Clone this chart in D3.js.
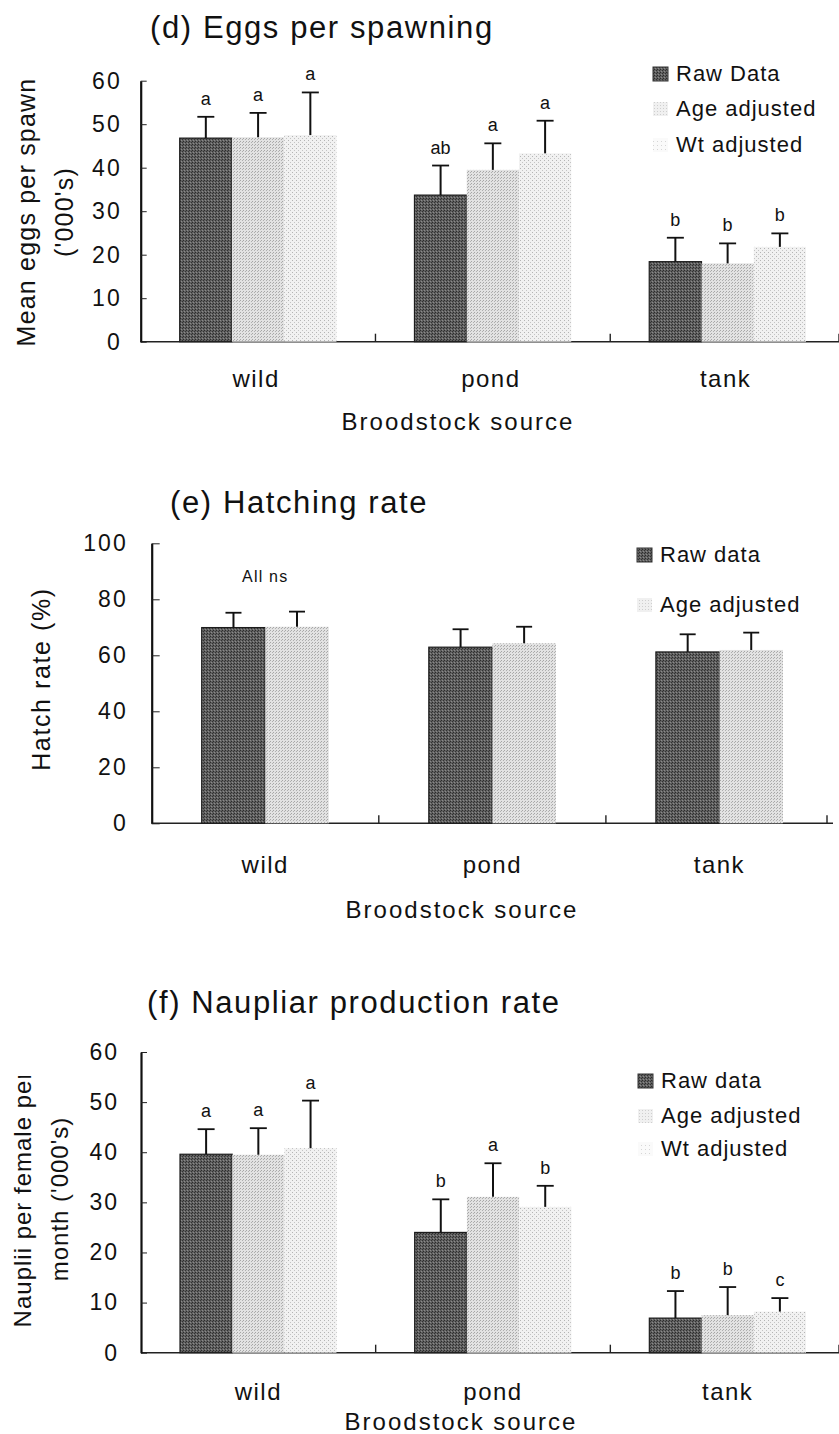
<!DOCTYPE html>
<html>
<head>
<meta charset="utf-8">
<title>Broodstock source</title>
<script src="https://cdn.jsdelivr.net/npm/d3@7"></script>
<style>
  body { margin: 0; background: #fff; }
  svg { display: block; font-family: "Liberation Sans", Arial, sans-serif; }
</style>
</head>
<body>
<svg id="chart" width="839" height="1434"></svg>
<script>
// categories + series names
const sources = ['wild', 'pond', 'tank']
const seriesKeys = ['raw', 'age', 'wt']

// (d) eggs per spawning ('000s)
const eggsRaw = [46.8, 33.7, 18.4]
const eggsRawSE = [4.9, 6.8, 5.5]
const eggsAge = [47.0, 39.5, 18.0]
const eggsAgeSE = [5.6, 6.1, 4.6]
const eggsWt = [47.5, 43.3, 21.8]
const eggsWtSE = [9.8, 7.5, 3.1]
const eggsRawSig = ['a', 'ab', 'b']
const eggsAgeSig = ['a', 'a', 'b']
const eggsWtSig = ['a', 'a', 'b']
const eggsTicks = [0, 10, 20, 30, 40, 50, 60]
const eggsLegend = ['Raw Data', 'Age adjusted', 'Wt adjusted']

// (e) hatching rate (%)
const hatchRaw = [69.9, 62.9, 61.2]
const hatchRawSE = [5.3, 6.4, 6.3]
const hatchAge = [70.2, 64.3, 61.9]
const hatchAgeSE = [5.4, 5.9, 6.2]
const hatchTicks = [0, 20, 40, 60, 80, 100]
const hatchLegend = ['Raw data', 'Age adjusted']

// (f) naupliar production rate ('000s per female per month)
const naupRaw = [39.6, 24.0, 6.9]
const naupRawSE = [5.0, 6.6, 5.4]
const naupAge = [39.5, 31.1, 7.5]
const naupAgeSE = [5.3, 6.7, 5.6]
const naupWt = [40.8, 29.1, 8.2]
const naupWtSE = [9.5, 4.2, 2.7]
const naupRawSig = ['a', 'b', 'b']
const naupAgeSig = ['a', 'a', 'b']
const naupWtSig = ['a', 'b', 'c']
const naupTicks = [0, 10, 20, 30, 40, 50, 60]
const naupLegend = ['Raw data', 'Age adjusted', 'Wt adjusted']

const svg = d3.select('#chart')
const defs = svg.append('defs')

// stipple fills, like the scanned print
function stipple(id, size, base, dots) {
	const p = defs.append('pattern').attr('id', id)
		.attr('width', size).attr('height', size)
		.attr('patternUnits', 'userSpaceOnUse')
	p.append('rect').attr('width', size).attr('height', size).attr('fill', base)
	dots.forEach(function(d) {
		p.append('rect').attr('x', d[0]).attr('y', d[1]).attr('width', 1).attr('height', 1).attr('fill', d[2])
	})
}
stipple('fill-raw', 3, '#606060', [[0, 0, '#2c2c2c'], [2, 1, '#333'], [1, 2, '#8a8a8a']])
stipple('fill-age', 3, '#e2e2e2', [[0, 0, '#a6a6a6'], [2, 1, '#b0b0b0']])
stipple('fill-wt', 4, '#f1f1f1', [[0, 0, '#b4b4b4'], [2, 2, '#c4c4c4']])
stipple('fill-age-key', 3, '#f0f0f0', [[0, 0, '#cfcfcf']])
stipple('fill-wt-key', 4, '#fafafa', [[1, 1, '#d6d6d6']])

const fills = { raw: 'url(#fill-raw)', age: 'url(#fill-age)', wt: 'url(#fill-wt)' }
const keyFills = { raw: 'url(#fill-raw)', age: 'url(#fill-age-key)', wt: 'url(#fill-wt-key)' }

// clip for the cut-off first line of the (f) y label
defs.append('clipPath').attr('id', 'clip-f').append('rect')
	.attr('x', 0).attr('y', 1076).attr('width', 120).attr('height', 300)

function drawPanel(o) {
	const g = svg.append('g')

	const y = d3.scaleLinear().domain([0, o.yMax]).range([o.y0, o.yTop])
	const x = d3.scaleBand().domain(sources).range([o.x0, o.x1]).padding(0)
	const keys = o.series.map(function(s) { return s.key })
	const xs = d3.scaleBand().domain(keys)
		.range([o.groupPad, x.bandwidth() - o.groupPad]).padding(0)

	// x axis line + boundary ticks
	g.append('line')
		.attr('x1', o.x0).attr('x2', o.x1)
		.attr('y1', y(0)).attr('y2', y(0))
		.attr('stroke', '#222').attr('stroke-width', 1.4)
	const bounds = sources.slice(1).map(function(c) { return x(c) }).concat([o.x1 - 6])
	g.selectAll('.xtick').data(bounds).enter().append('line')
		.attr('x1', function(d) { return d }).attr('x2', function(d) { return d })
		.attr('y1', y(0)).attr('y2', y(0) - 8)
		.attr('stroke', '#222').attr('stroke-width', 1.4)

	// bars
	o.series.forEach(function(s) {
		const sg = g.append('g')
		const rows = sources.map(function(c, i) {
			return { cat: c, v: s.values[i], se: s.se[i], sig: s.sig ? s.sig[i] : null }
		})
		sg.selectAll('rect').data(rows).enter().append('rect')
			.attr('x', function(d) { return x(d.cat) + xs(s.key) })
			.attr('y', function(d) { return y(d.v) })
			.attr('width', xs.bandwidth())
			.attr('height', function(d) { return y(0) - y(d.v) })
			.attr('fill', fills[s.key])
			.attr('stroke', s.key == 'raw' ? '#1c1c1c' : 'none')
			.attr('stroke-width', 1.2)

		const cx = function(d) { return x(d.cat) + xs(s.key) + xs.bandwidth() / 2 }
		sg.selectAll('.err').data(rows).enter().append('line')
			.attr('x1', cx).attr('x2', cx)
			.attr('y1', function(d) { return y(d.v) })
			.attr('y2', function(d) { return y(d.v + d.se) })
			.attr('stroke', '#111').attr('stroke-width', 2)
		sg.selectAll('.cap').data(rows).enter().append('line')
			.attr('x1', function(d) { return cx(d) - o.capW / 2 })
			.attr('x2', function(d) { return cx(d) + o.capW / 2 })
			.attr('y1', function(d) { return y(d.v + d.se) })
			.attr('y2', function(d) { return y(d.v + d.se) })
			.attr('stroke', '#111').attr('stroke-width', 1.8)

		if (s.sig) {
			sg.selectAll('.sig').data(rows).enter().append('text')
				.attr('x', cx)
				.attr('y', function(d) { return y(d.v + d.se) - 12 })
				.attr('text-anchor', 'middle')
				.attr('font-size', 18)
				.attr('fill', '#111')
				.text(function(d) { return d.sig })
		}
	})

	// y axis
	const yAxis = d3.axisLeft(y).tickValues(o.ticks)
		.tickSize(-o.tickLen).tickSizeOuter(0).tickPadding(o.tickPad)
		.tickFormat(d3.format('d'))
	const ag = g.append('g').attr('transform', 'translate(' + o.x0 + ',0)').call(yAxis)
	ag.select('.domain').attr('stroke', '#111').attr('stroke-width', 2.2)
	ag.selectAll('.tick line').attr('stroke', '#222').attr('stroke-width', 1)
	ag.selectAll('.tick text')
		.attr('font-size', 23).attr('font-family', null)
		.attr('letter-spacing', 2).attr('fill', '#111')

	// titles + labels
	g.append('text').attr('x', o.titleX).attr('y', o.titleY)
		.attr('font-size', 31).attr('letter-spacing', 1.6).attr('fill', '#111')
		.text(o.title)

	o.yLabel.forEach(function(line, i) {
		const holder = g.append('g')
		if (o.yLabelClip && i == 0) holder.attr('clip-path', 'url(#' + o.yLabelClip + ')')
		holder.append('text')
			.attr('transform', 'translate(' + o.yLabelX[i] + ',' + o.yLabelY + ') rotate(-90)')
			.attr('text-anchor', 'middle')
			.attr('font-size', o.yLabelSize).attr('letter-spacing', o.yLabelSpacing[i]).attr('fill', '#111')
			.text(line)
	})

	g.selectAll('.cat').data(sources).enter().append('text')
		.attr('x', function(d) { return x(d) + x.bandwidth() / 2 + o.catShift })
		.attr('y', o.catY)
		.attr('text-anchor', 'middle')
		.attr('font-size', 24).attr('letter-spacing', 1.5).attr('fill', '#111')
		.text(function(d) { return d })

	g.append('text').attr('x', o.xTitleX).attr('y', o.xTitleY)
		.attr('text-anchor', 'middle')
		.attr('font-size', 24).attr('letter-spacing', 2).attr('fill', '#111')
		.text('Broodstock source')

	// legend
	const lg = g.append('g')
	o.series.forEach(function(s, i) {
		const by = o.legendY[i]
		lg.append('rect')
			.attr('x', o.legendX).attr('y', by - 14)
			.attr('width', 15).attr('height', 14)
			.attr('fill', keyFills[s.key])
			.attr('stroke', s.key == 'raw' ? '#333' : 'none')
		lg.append('text')
			.attr('x', o.legendX + 23).attr('y', by)
			.attr('font-size', 22).attr('letter-spacing', 1).attr('fill', '#111')
			.text(s.label)
	})

	if (o.note) {
		g.append('text').attr('x', x('wild') + x.bandwidth() / 2).attr('y', o.noteY)
			.attr('text-anchor', 'middle')
			.attr('font-size', 16).attr('letter-spacing', 1.2).attr('fill', '#111')
			.text(o.note)
	}
}

drawPanel({
	title: '(d) Eggs per spawning', titleX: 150, titleY: 38,
	yMax: 60, ticks: eggsTicks, y0: 341.7, yTop: 80.7,
	x0: 140.7, x1: 845, groupPad: 39, capW: 17, tickLen: 6, tickPad: 19,
	series: [
		{ key: 'raw', label: eggsLegend[0], values: eggsRaw, se: eggsRawSE, sig: eggsRawSig },
		{ key: 'age', label: eggsLegend[1], values: eggsAge, se: eggsAgeSE, sig: eggsAgeSig },
		{ key: 'wt', label: eggsLegend[2], values: eggsWt, se: eggsWtSE, sig: eggsWtSig }
	],
	yLabel: ['Mean eggs per spawn', "('000's)"], yLabelX: [35, 73], yLabelY: 212,
	yLabelSize: 25, yLabelSpacing: [1.2, 1.2],
	catY: 387, catShift: -2, xTitleX: 458, xTitleY: 430,
	legendX: 653, legendY: [81, 116, 152]
})

drawPanel({
	title: '(e) Hatching rate', titleX: 170, titleY: 513,
	yMax: 100, ticks: hatchTicks, y0: 823.3, yTop: 543.3,
	x0: 151.7, x1: 833, groupPad: 50, capW: 16, tickLen: 8, tickPad: 24,
	series: [
		{ key: 'raw', label: hatchLegend[0], values: hatchRaw, se: hatchRawSE },
		{ key: 'age', label: hatchLegend[1], values: hatchAge, se: hatchAgeSE }
	],
	yLabel: ['Hatch rate (%)'], yLabelX: [50], yLabelY: 679,
	yLabelSize: 25, yLabelSpacing: [1.6],
	catY: 873, catShift: 0, xTitleX: 462, xTitleY: 918,
	legendX: 637, legendY: [562, 612],
	note: 'All ns', noteY: 582
})

drawPanel({
	title: '(f) Naupliar production rate', titleX: 147, titleY: 1013,
	yMax: 60, ticks: naupTicks, y0: 1352.7, yTop: 1052,
	x0: 141, x1: 845, groupPad: 39, capW: 17, tickLen: 6, tickPad: 22,
	series: [
		{ key: 'raw', label: naupLegend[0], values: naupRaw, se: naupRawSE, sig: naupRawSig },
		{ key: 'age', label: naupLegend[1], values: naupAge, se: naupAgeSE, sig: naupAgeSig },
		{ key: 'wt', label: naupLegend[2], values: naupWt, se: naupWtSE, sig: naupWtSig }
	],
	yLabel: ['Nauplii per female per', "month ('000's)"], yLabelX: [31, 68], yLabelY: 1199,
	yLabelSize: 24, yLabelSpacing: [1, 1], yLabelClip: 'clip-f',
	catY: 1400, catShift: 0, xTitleX: 461, xTitleY: 1430,
	legendX: 638, legendY: [1088, 1123, 1156]
})
</script>
</body>
</html>
